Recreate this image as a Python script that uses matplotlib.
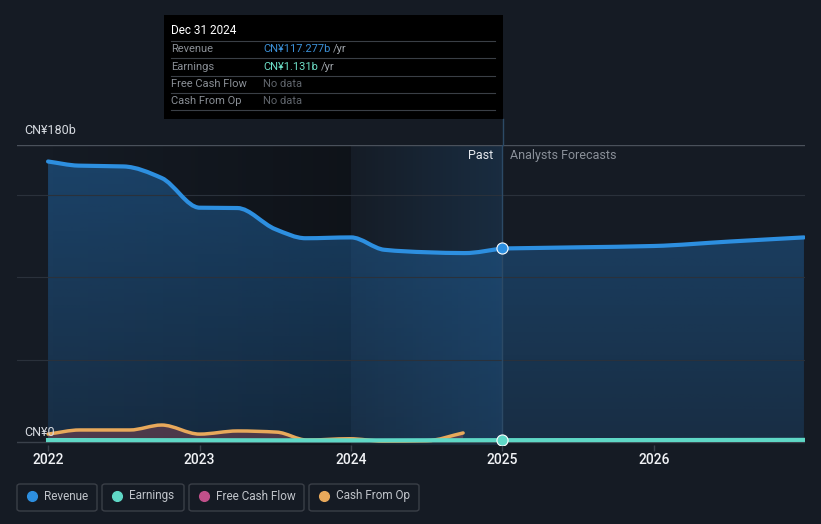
import numpy as np
import matplotlib.pyplot as plt
from matplotlib.lines import Line2D
from matplotlib.patches import Rectangle, FancyBboxPatch, PathPatch
from matplotlib.path import Path

plt.rcParams['font.family'] = ['Roboto', 'DejaVu Sans']

# revenue, CN¥ billions (past to Dec 2024, then analyst forecasts)
rev_x = [2022.0, 2022.2, 2022.5, 2022.75, 2023.0, 2023.25,
         2023.5, 2023.7, 2024.0, 2024.22, 2024.5, 2024.75, 2025.0]
rev_y = [170.0, 167.5, 167.0, 160.0, 142.0, 141.8,
         129.0, 123.5, 124.0, 116.5, 115.0, 114.5, 117.3]
fc_x = [2025.0, 2025.5, 2026.0, 2026.5, 2026.99]
fc_y = [117.3, 118.0, 118.8, 121.5, 124.0]

# earnings, CN¥ billions
earn_x = [2022.0, 2023.0, 2024.0, 2025.0, 2026.0, 2026.99]
earn_y = [1.2, 1.1, 1.0, 1.131, 1.2, 1.3]

# cash from operations, CN¥ billions
cfo_x = [2022.0, 2022.21, 2022.54, 2022.75, 2023.0, 2023.25, 2023.51, 2023.71,
         2023.99, 2024.21, 2024.5, 2024.74]
cfo_y = [4.8, 7.3, 7.3, 10.3, 4.8, 6.7, 6.0, 1.2, 2.0, 0.6, 0.8, 5.5]

years = [2022, 2023, 2024, 2025, 2026]
legend_items = [('Revenue', '#2d8fe0'), ('Earnings', '#5fd8c6'),
                ('Free Cash Flow', '#c0508a'), ('Cash From Op', '#e8a95b')]

BG = '#151b24'
W, H = 821, 524
fig = plt.figure(figsize=(W / 100, H / 100), dpi=100, facecolor=BG)


def fx(px):
    return px / W


def fy(py):
    return 1 - py / H


def smooth_verts(xs, ys):
    # monotone cubic bezier through the points (drawing only)
    x = np.asarray(xs, float)
    y = np.asarray(ys, float)
    h = np.diff(x)
    d = np.diff(y) / h
    m = np.zeros_like(y)
    m[0], m[-1] = d[0], d[-1]
    for i in range(1, len(y) - 1):
        if d[i - 1] * d[i] > 0:
            m[i] = 2 / (1 / d[i - 1] + 1 / d[i])
    verts = [(x[0], y[0])]
    for i in range(len(h)):
        verts += [(x[i] + h[i] / 3, y[i] + m[i] * h[i] / 3),
                  (x[i + 1] - h[i] / 3, y[i + 1] - m[i + 1] * h[i] / 3),
                  (x[i + 1], y[i + 1])]
    codes = [Path.MOVETO] + [Path.CURVE4] * (len(verts) - 1)
    return verts, codes


def curve(ax, xs, ys, **kw):
    v, c = smooth_verts(xs, ys)
    ax.add_patch(PathPatch(Path(v, c), fill=False, **kw))


def area(xs, ys):
    v, c = smooth_verts(xs, ys)
    v = v + [(xs[-1], 0), (xs[0], 0), (xs[0], ys[0])]
    c = c + [Path.LINETO, Path.LINETO, Path.CLOSEPOLY]
    return Path(v, c)


ax = fig.add_axes([fx(17), fy(445), (805 - 17) / W, 300 / H])
ax.set_facecolor(BG)
XL = (2021.795, 2026.997)
YL = (-1.8, 180)

# darker band over the past, lighter highlight over last year
dark = np.zeros((2, 256, 4))
dark[..., 3] = np.linspace(0, 0.3, 256)
ax.imshow(dark, extent=[2022.0, 2024.0, YL[0], YL[1]], aspect='auto', zorder=0.5)
hl = np.zeros((2, 256, 4))
hl[..., :3] = (0.16, 0.42, 0.66)
hl[..., 3] = np.linspace(0.02, 0.22, 256)
ax.imshow(hl, extent=[2024.0, 2025.0, YL[0], YL[1]], aspect='auto', zorder=0.6)

# revenue area with vertical gradient
grad = np.zeros((256, 2, 4))
grad[..., :3] = (0.13, 0.40, 0.65)
grad[..., 3] = np.linspace(0.55, 0.25, 256)[:, None]
for xs, ys in [(rev_x, rev_y), (fc_x, fc_y)]:
    im = ax.imshow(grad, extent=[2022.0, 2026.99, 0, 180], aspect='auto', zorder=1)
    im.set_clip_path(area(xs, ys), transform=ax.transData)
    curve(ax, xs, ys, edgecolor='#2d8fe0', lw=3, capstyle='round', zorder=4)

# cash from op
ax.add_patch(PathPatch(area(cfo_x, cfo_y), facecolor='#b5545c', alpha=0.35, lw=0, zorder=2))
curve(ax, cfo_x, cfo_y, edgecolor='#e8a95b', lw=2.5, capstyle='round', zorder=3)

# earnings
ax.plot(earn_x, earn_y, color='#5fd8c6', lw=3, zorder=5)

# past / forecast divider
ax.axvline(2025.0, color='#2c4a66', lw=1, zorder=1.8)
fig.add_artist(Line2D([fx(503), fx(503)], [fy(119), fy(145)], color='#2c4a66', lw=1))

ax.plot([2025.0], [117.3], 'o', ms=8, color='#2d8fe0', mec='white', mew=0.8, zorder=6)
ax.plot([2025.0], [1.131], 'o', ms=8, color='#5fd8c6', mec='white', mew=0.8, zorder=6)

ax.set_xlim(*XL)
ax.set_ylim(*YL)
for v in [50, 100, 150]:
    ax.axhline(v, color='#2a313b', lw=0.8, zorder=1.5)
ax.axhline(180, color='#4a515b', lw=1, zorder=1.5)
ax.axhline(0, color='#3a414b', lw=1, zorder=1.5)

for s in ax.spines.values():
    s.set_visible(False)
ax.set_yticks([])
ax.set_xticks(years)
ax.set_xticklabels([str(y) for y in years])
ax.tick_params(axis='x', colors='#3a414b', labelcolor='#f0f2f5', labelsize=10,
               length=4, width=1, pad=2)
for lab in ax.get_xticklabels():
    lab.set_fontweight('medium')

fig.text(fx(493), fy(156), 'Past', color='#e6e9ee', fontsize=9, ha='right', va='center')
fig.text(fx(510), fy(156), 'Analysts Forecasts', color='#8a9099', fontsize=9,
         ha='left', va='center')

fig.text(fx(24), fy(131), 'CN¥180b', color='#d6dae0', fontsize=9, va='center')
fig.text(fx(24), fy(432), 'CN¥0', color='#d6dae0', fontsize=9, va='center')

# tooltip
fig.add_artist(Rectangle((fx(164), fy(119)), (503 - 164) / W, (119 - 15) / H,
                         transform=fig.transFigure, facecolor='#000000',
                         edgecolor='none', zorder=10))
fig.text(fx(171), fy(31), 'Dec 31 2024', color='white', fontsize=8.5, va='center', zorder=11)
rows = [('Revenue', 'CN¥117.277b', '#3b8fd6', True),
        ('Earnings', 'CN¥1.131b', '#6ee0c8', True),
        ('Free Cash Flow', 'No data', '#60656c', False),
        ('Cash From Op', 'No data', '#60656c', False)]
for i, (lab, val, col, yr) in enumerate(rows):
    yy = 49 + i * 17.5
    fig.add_artist(Line2D([fx(171), fx(495)], [fy(yy - 8.5), fy(yy - 8.5)],
                          color='#3a3f46', lw=0.8, zorder=11))
    fig.text(fx(171), fy(yy), lab, color='#8a8f96', fontsize=8, va='center', zorder=11)
    t = fig.text(fx(263), fy(yy), val, color=col, fontsize=8, va='center', zorder=11)
    if yr:
        fig.canvas.draw()
        bb = t.get_window_extent()
        fig.text(bb.x1 / W + fx(3), fy(yy), '/yr', color='#a0a5ab', fontsize=8,
                 va='center', zorder=11)
fig.add_artist(Line2D([fx(171), fx(495)], [fy(110), fy(110)], color='#3a3f46', lw=0.8,
                      zorder=11))

# legend
boxes = [(17, 97), (102, 184), (189, 304), (309, 419)]
for (x0, x1), (name, col) in zip(boxes, legend_items):
    fig.add_artist(FancyBboxPatch((fx(x0), fy(511)), (x1 - x0) / W, 27 / H,
                                  boxstyle='round,pad=0,rounding_size=0.004',
                                  transform=fig.transFigure, facecolor='none',
                                  edgecolor='#3a3f47', lw=1))
    fig.add_artist(Line2D([fx(x0 + 15)], [fy(496)], marker='o', ms=7, color=col, lw=0))
    fig.text(fx(x0 + 27), fy(496), name, color='#c0c4ca', fontsize=8.5, va='center')

fig.savefig('out.png', dpi=100, facecolor=BG)
